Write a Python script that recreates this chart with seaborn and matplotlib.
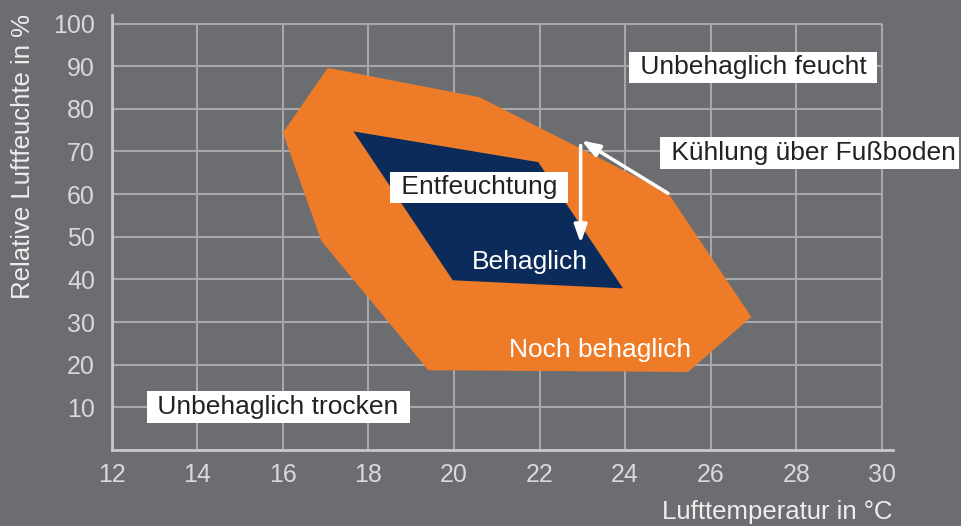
import matplotlib
matplotlib.use("Agg")
import matplotlib.pyplot as plt
import seaborn as sns
import pandas as pd

# ---- data ----
outer_temp = [17.05, 20.6, 25.0, 26.95, 25.47, 19.4, 16.9, 16.0]
outer_hum = [89.6, 82.7, 60.3, 31.2, 18.3, 18.7, 49.0, 74.4]
inner_temp = [17.65, 21.97, 23.95, 19.97]
inner_hum = [74.7, 67.5, 37.9, 39.8]
x_ticks = [12, 14, 16, 18, 20, 22, 24, 26, 28, 30]
y_ticks = [10, 20, 30, 40, 50, 60, 70, 80, 90, 100]
arrow_down = {"x0": 22.96, "y0": 71.4, "x1": 22.96, "y1": 48.5}
arrow_diag = {"x0": 25.0, "y0": 60.2, "x1": 22.98, "y1": 72.6}
labels_boxed = [
    ("Unbehaglich feucht", 26.99, 89.7, "center"),
    ("Kühlung über Fußboden", 31.72, 69.6, "right"),
    ("Entfeuchtung", 20.59, 61.6, "center"),
    ("Unbehaglich trocken", 15.89, 10.1, "center"),
]
labels_plain = [
    ("Behaglich", 21.78, 44.0),
    ("Noch behaglich", 23.41, 23.4),
]

BG = "#6c6d71"
ORANGE = "#ee7b28"
NAVY = "#0b2c5b"
GRID = "#a7a8ab"

sns.set_theme(style="white")
plt.rcParams["font.family"] = ["Liberation Sans", "DejaVu Sans"]

fig = plt.figure(figsize=(9.62, 5.26), dpi=100, facecolor=BG)
ax = fig.add_axes([111.7 / 962, 1 - 450 / 526, (893 - 111.7) / 962, (450 - 15) / 526])
ax.set_facecolor(BG)

# grid restricted to the data range (12..30, 0..100)
ax.hlines(y_ticks, x_ticks[0], x_ticks[-1], color=GRID, lw=1.5, zorder=1)
ax.vlines(x_ticks[1:], 0, y_ticks[-1], color=GRID, lw=1.5, zorder=1)

outer = pd.DataFrame({"t": outer_temp, "h": outer_hum})
inner = pd.DataFrame({"t": inner_temp, "h": inner_hum})
ax.fill(outer["t"], outer["h"], color=ORANGE, zorder=3, lw=0)
ax.fill(inner["t"], inner["h"], color=NAVY, zorder=4, lw=0)

ax.set_xlim(12, 30.26)
ax.set_ylim(0, 102)
ax.set_xticks(x_ticks)
ax.set_yticks(y_ticks)
for s in ["top", "right"]:
    ax.spines[s].set_visible(False)
for s in ["left", "bottom"]:
    ax.spines[s].set_color("#c9c9cb")
    ax.spines[s].set_linewidth(2)
    ax.spines[s].set_zorder(2)
ax.tick_params(axis="both", length=0, colors="#d9d9db", labelsize=18)
ax.tick_params(axis="y", pad=12)
ax.tick_params(axis="x", pad=9)

for a in (arrow_down, arrow_diag):
    ax.annotate("", xy=(a["x1"], a["y1"]), xytext=(a["x0"], a["y0"]),
                arrowprops=dict(arrowstyle="-|>,head_length=0.9,head_width=0.32",
                                color="white", lw=2.5, shrinkA=0, shrinkB=0),
                zorder=6)

for txt, x, y, ha in labels_boxed:
    s = " " + txt + (" " if ha == "center" else "")
    ax.text(x, y, s, ha=ha, va="center", fontsize=19, color="#222222",
            zorder=7, clip_on=False,
            bbox=dict(boxstyle="square,pad=0.14", fc="white", ec="none"))
for txt, x, y in labels_plain:
    ax.text(x, y, txt, ha="center", va="center", fontsize=19, color="white", zorder=7)

fig.text(893 / 962, 1 - 512 / 526, "Lufttemperatur in °C", ha="right", va="center",
         fontsize=18.5, color="#eeeeee")
fig.text(23 / 962, 1 - 157 / 526, "Relative Luftfeuchte in %", ha="center", va="center",
         rotation=90, fontsize=18.5, color="#eeeeee")

fig.savefig("out.png", dpi=100, facecolor=BG)
